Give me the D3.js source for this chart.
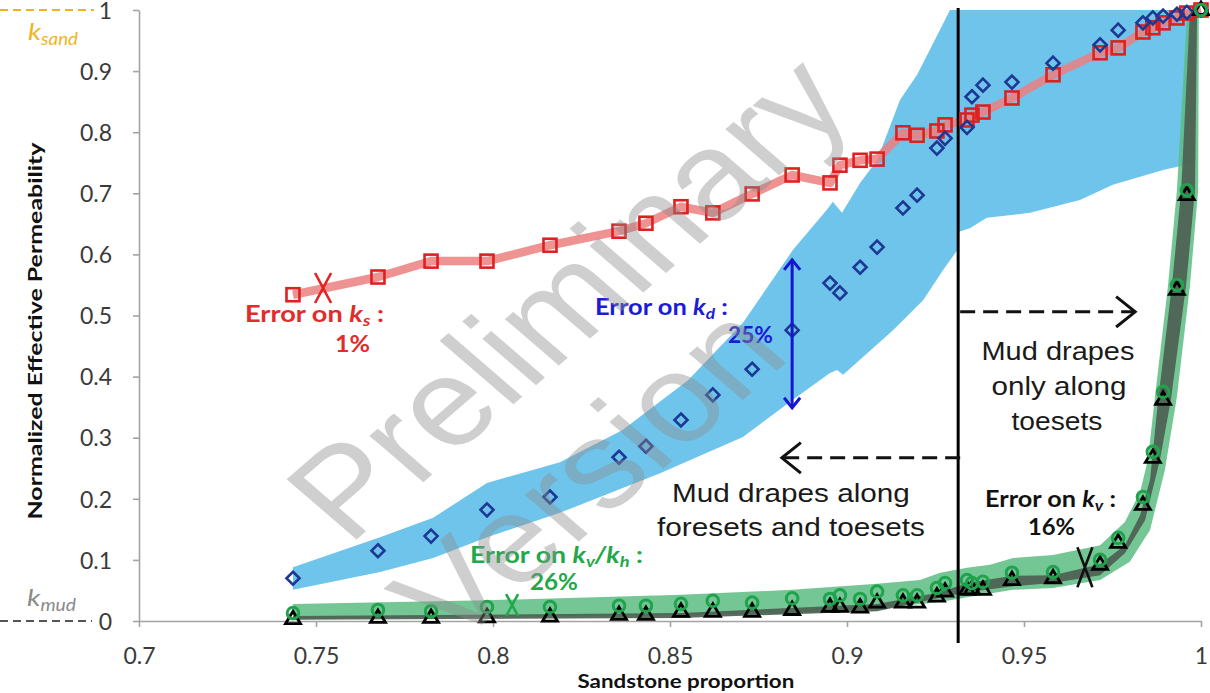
<!DOCTYPE html>
<html><head><meta charset="utf-8">
<script src="https://cdn.jsdelivr.net/npm/d3@7"></script>
<style>body{margin:0;background:#fff;}svg{display:block}</style>
</head><body>
<svg id="chart" width="1210" height="693"></svg>
<script>
// ---------------- data ----------------
const sandProportion = [0.7435, 0.7675, 0.7825, 0.7983, 0.8161, 0.8356, 0.8432, 0.8531, 0.8621, 0.8732, 0.8845, 0.8952, 0.8980, 0.9037, 0.9085, 0.9158, 0.9198, 0.9254, 0.9277, 0.9339, 0.9353, 0.9384, 0.9466, 0.9582, 0.9715, 0.9766, 0.9836, 0.9864, 0.9893, 0.9932, 0.9960, 1.0];
const ks   = [0.534, 0.563, 0.589, 0.589, 0.615, 0.638, 0.651, 0.678, 0.668, 0.699, 0.730, 0.717, 0.746, 0.754, 0.756, 0.799, 0.795, 0.802, 0.812, 0.820, 0.828, 0.833, 0.856, 0.894, 0.930, 0.938, 0.964, 0.971, 0.979, 0.987, 0.995, 1.0];
const kd   = [0.070, 0.115, 0.139, 0.182, 0.203, 0.268, 0.286, 0.329, 0.370, 0.412, 0.476, 0.553, 0.537, 0.579, 0.612, 0.676, 0.697, 0.774, 0.790, 0.808, 0.858, 0.877, 0.882, 0.913, 0.943, 0.967, 0.979, 0.987, 0.990, 0.993, 0.996, 1.0];
const kvkh = [0.013, 0.018, 0.016, 0.023, 0.023, 0.025, 0.025, 0.028, 0.033, 0.030, 0.037, 0.036, 0.042, 0.036, 0.048, 0.042, 0.042, 0.054, 0.062, 0.067, 0.062, 0.064, 0.079, 0.080, 0.100, 0.136, 0.203, 0.277, 0.375, 0.550, 0.705, 1.0];
const kv   = [0.003, 0.005, 0.005, 0.006, 0.007, 0.010, 0.010, 0.015, 0.015, 0.015, 0.018, 0.023, 0.023, 0.022, 0.030, 0.030, 0.030, 0.040, 0.048, 0.051, 0.052, 0.051, 0.067, 0.070, 0.092, 0.128, 0.190, 0.267, 0.362, 0.542, 0.697, 1.0];

// error envelopes: [sand proportion, permeability]
const kdBandUpper = [[0.7435,0.088],[0.7681,0.137],[0.7831,0.169],[0.7983,0.226],[0.8189,0.260],[0.8365,0.312],[0.8551,0.394],[0.8706,0.488],[0.8847,0.607],[0.8943,0.673],[0.8960,0.686],[0.8986,0.668],[0.9037,0.717],[0.9085,0.754],[0.9150,0.853],[0.9198,0.894],[0.9234,0.935],[0.9291,1.0],[0.9983,1.0]];
const kdBandLower = [[0.7435,0.051],[0.7681,0.080],[0.7831,0.103],[0.7983,0.137],[0.8189,0.177],[0.8472,0.242],[0.8706,0.301],[0.8847,0.362],[0.8952,0.406],[0.8972,0.411],[0.8989,0.403],[0.9130,0.476],[0.9215,0.525],[0.9271,0.574],[0.9314,0.609],[0.9316,0.637],[0.9347,0.643],[0.9395,0.660],[0.9517,0.668],[0.9658,0.689],[0.9751,0.714],[0.9893,0.738],[0.9983,0.750]];
const kvkhBandUpper = [[0.7435,0.028],[0.7983,0.034],[0.8531,0.043],[0.8845,0.051],[0.9085,0.061],[0.9206,0.067],[0.9263,0.079],[0.9339,0.087],[0.9404,0.092],[0.9469,0.103],[0.9582,0.108],[0.9715,0.124],[0.9785,0.162],[0.9828,0.211],[0.9850,0.264],[0.9870,0.367],[0.9907,0.550],[0.9932,0.705],[0.9960,0.989],[0.9969,1.0],[0.9994,1.0]];
const kvkhBandLower = [[0.7435,0.003],[0.7983,0.007],[0.8531,0.010],[0.8845,0.013],[0.9085,0.020],[0.9263,0.031],[0.9339,0.039],[0.9469,0.051],[0.9582,0.054],[0.9715,0.067],[0.9799,0.097],[0.9856,0.149],[0.9898,0.247],[0.9932,0.367],[0.9969,0.550],[0.9992,0.705],[0.9994,1.0]];
const kvBandUpper = [[0.7435,0.008],[0.8531,0.013],[0.9085,0.028],[0.9263,0.047],[0.9339,0.062],[0.9469,0.074],[0.9582,0.075],[0.9715,0.093],[0.9785,0.124],[0.9828,0.173],[0.9856,0.231],[0.9879,0.362],[0.9918,0.550],[0.9944,0.705],[0.9969,1.0],[0.9989,1.0]];
const kvBandLower = [[0.7435,0.002],[0.8531,0.005],[0.9085,0.016],[0.9263,0.038],[0.9339,0.047],[0.9469,0.057],[0.9582,0.062],[0.9715,0.075],[0.9785,0.111],[0.9842,0.165],[0.9884,0.264],[0.9915,0.362],[0.9958,0.550],[0.9983,0.705],[0.9989,1.0]];

const xTicks = [0.7, 0.75, 0.8, 0.85, 0.9, 0.95, 1.0];
const xTickLabels = ["0.7", "0.75", "0.8", "0.85", "0.9", "0.95", "1"];
const yTicks = [0, 0.1, 0.2, 0.3, 0.4, 0.5, 0.6, 0.7, 0.8, 0.9, 1.0];
const yTickLabels = ["0", "0.1", "0.2", "0.3", "0.4", "0.5", "0.6", "0.7", "0.8", "0.9", "1"];

const transitionX = 0.9314;          // vertical separator
const ksCross = [0.752, 0.545];      // error location markers
const kvkhCross = [0.8054, 0.026];
const kvCross = [0.9672, 0.088];
const kdArrow = [0.8845, 0.349, 0.591];   // x, from, to
const leftArrow = [0.9314, 0.8816, 0.267]; // from x, to x, y
const rightArrow = [0.9314, 0.9814, 0.506];

// ---------------- drawing ----------------
const svg = d3.select("#chart");
const x = d3.scaleLinear().domain([0.7, 1]).range([139, 1201]);
const y = d3.scaleLinear().domain([0, 1]).range([621, 10]);
const LATO = "Lato, 'Open Sans', sans-serif";
const ARIAL = "'Liberation Sans', Arial, sans-serif";

const pts = vals => sandProportion.map((s, i) => [s, vals[i]]);
const line = d3.line().x(d => x(d[0])).y(d => y(d[1]));
const bandPath = (up, lo) => line(up.concat(lo.slice().reverse())) + "Z";

// axes
const yAxis = svg.append("g").attr("transform", `translate(${x(0.7)},0)`)
  .call(d3.axisLeft(y).tickValues(yTicks).tickFormat((d, i) => yTickLabels[i]).tickSize(6).tickSizeOuter(0).tickPadding(21));
const xAxis = svg.append("g").attr("transform", `translate(0,${y(0)})`)
  .call(d3.axisBottom(x).tickValues(xTicks).tickFormat((d, i) => xTickLabels[i]).tickSize(6).tickSizeOuter(0).tickPadding(21));
[yAxis, xAxis].forEach(a => {
  a.select(".domain").attr("stroke", "#a3a3a3").attr("stroke-width", 1.6);
  a.selectAll(".tick line").attr("stroke", "#a3a3a3").attr("stroke-width", 1.6);
  a.selectAll(".tick text").attr("font-family", LATO).attr("font-size", 23).attr("fill", "#3a3a3a");
});
yAxis.selectAll(".tick text").attr("dy", "0.36em");
xAxis.selectAll(".tick text").attr("dy", "0.71em");

// bands
svg.append("path").attr("d", bandPath(kdBandUpper, kdBandLower)).attr("fill", "#6fc4ec");
svg.append("path").attr("d", bandPath(kvkhBandUpper, kvkhBandLower)).attr("fill", "#5cbd82").attr("opacity", 0.85);
svg.append("path").attr("d", bandPath(kvBandUpper, kvBandLower)).attr("fill", "#4d5f52").attr("opacity", 0.92);

// ks line
svg.append("path").attr("d", line(pts(ks))).attr("fill", "none")
  .attr("stroke", "#ec7f7f").attr("stroke-opacity", 0.85).attr("stroke-width", 8.5).attr("stroke-linejoin", "round");

// vertical separator
svg.append("line").attr("x1", x(transitionX)).attr("x2", x(transitionX)).attr("y1", y(1) - 2).attr("y2", y(0) + 22)
  .attr("stroke", "#000").attr("stroke-width", 3);

// markers
svg.append("g").selectAll("rect").data(pts(ks)).join("rect")
  .attr("x", d => x(d[0]) - 6.5).attr("y", d => y(d[1]) - 6.5).attr("width", 13).attr("height", 13)
  .attr("fill", "none").attr("stroke", "#dd2020").attr("stroke-width", 2.6);
svg.append("g").selectAll("path").data(pts(kd)).join("path")
  .attr("transform", d => `translate(${x(d[0])},${y(d[1])})`)
  .attr("d", "M0,-6.5L6.5,0L0,6.5L-6.5,0Z")
  .attr("fill", "none").attr("stroke", "#1d3894").attr("stroke-width", 2.6);
svg.append("g").selectAll("path").data(pts(kv)).join("path")
  .attr("transform", d => `translate(${x(d[0])},${y(d[1])})`)
  .attr("d", "M0,-8L7.5,4.5L-7.5,4.5Z")
  .attr("fill", "none").attr("stroke", "#000").attr("stroke-width", 2.8).attr("stroke-linejoin", "miter");
svg.append("g").selectAll("circle").data(pts(kvkh)).join("circle")
  .attr("cx", d => x(d[0])).attr("cy", d => y(d[1])).attr("r", 5.8)
  .attr("fill", "none").attr("stroke", "#1fa34c").attr("stroke-width", 3);

// error crosses
function cross(p, w, h, color) {
  svg.append("path").attr("transform", `translate(${x(p[0])},${y(p[1])})`)
    .attr("d", `M${-w/2},${-h/2}L${w/2},${h/2}M${w/2},${-h/2}L${-w/2},${h/2}`)
    .attr("stroke", color).attr("stroke-width", 2.6).attr("fill", "none");
}
cross(ksCross, 16, 30, "#e52222");
cross(kvkhCross, 12, 22, "#22a84a");
cross(kvCross, 15, 40, "#111");

// kd double arrow
function chevron(tx, ty, dx, dy, color) { // tip at (tx,ty), opening toward (dx,dy)
  const px = -dy, py = dx;
  svg.append("path")
    .attr("d", `M${tx + dx*10 + px*8},${ty + dy*10 + py*8}L${tx},${ty}L${tx + dx*10 - px*8},${ty + dy*10 - py*8}`)
    .attr("fill", "none").attr("stroke", color).attr("stroke-width", 3);
}
svg.append("line").attr("x1", x(kdArrow[0])).attr("x2", x(kdArrow[0])).attr("y1", y(kdArrow[1])).attr("y2", y(kdArrow[2]))
  .attr("stroke", "#1515d2").attr("stroke-width", 3);
chevron(x(kdArrow[0]), y(kdArrow[2]), 0, 1, "#1515d2");
chevron(x(kdArrow[0]), y(kdArrow[1]), 0, -1, "#1515d2");

// dashed arrows
[leftArrow, rightArrow].forEach(a => {
  svg.append("line").attr("x1", x(a[0]) + 2).attr("x2", x(a[1])).attr("y1", y(a[2])).attr("y2", y(a[2]))
    .attr("stroke", "#111").attr("stroke-width", 3).attr("stroke-dasharray", "15,8");
  chevron(x(a[1]), y(a[2]), a[1] < a[0] ? 1.9 : -1.9, 0, "#111");
});

// k_sand / k_mud reference marks
svg.append("line").attr("x1", 0).attr("x2", 94).attr("y1", y(1)).attr("y2", y(1))
  .attr("stroke", "#f2b21c").attr("stroke-width", 2).attr("stroke-dasharray", "8,5");
svg.append("line").attr("x1", 0).attr("x2", 92).attr("y1", y(0)).attr("y2", y(0))
  .attr("stroke", "#555").attr("stroke-width", 2).attr("stroke-dasharray", "8,5");

// rich text helper, horizontally fitted to a target width
function rich(parts, left, base, width, opt) {
  const fs = opt.size;
  const t = svg.append("text").attr("font-family", opt.family || LATO).attr("font-size", fs)
    .attr("font-weight", opt.weight || "normal").attr("fill", opt.color).attr("font-style", opt.style || "normal");
  let prevSub = false;
  parts.forEach(p => {
    const ts = t.append("tspan").text(p.t);
    if (p.i) ts.attr("font-style", "italic");
    if (p.sub) { ts.attr("font-size", fs * 0.68); if (!prevSub) ts.attr("dy", fs * 0.2); }
    else if (prevSub) ts.attr("dy", -fs * 0.2);
    prevSub = !!p.sub;
  });
  const w = t.node().getComputedTextLength();
  const sx = width ? width / w : 1;
  const x0 = opt.anchor === "middle" ? left - (width || w) / 2 : left;
  t.attr("transform", `translate(${x0},${base}) scale(${sx},1)`);
  return t;
}

rich([{t: "k", i: 1}, {t: "sand", sub: 1, i: 1}], 28, 40, 50, {size: 24, color: "#f0b41e"});
rich([{t: "k", i: 1}, {t: "mud", sub: 1, i: 1}], 27, 606, 49, {size: 24, color: "#8a8a8a"});

const B = {weight: "bold", size: 22};
rich([{t: "Error on "}, {t: "k", i: 1}, {t: "s", sub: 1, i: 1}, {t: " :"}], 245, 322, 139, {...B, color: "#e52a2a"});
rich([{t: "1%"}], 335, 352, 35, {...B, color: "#e52a2a"});
rich([{t: "Error on "}, {t: "k", i: 1}, {t: "d", sub: 1, i: 1}, {t: " :"}], 595, 315, 133, {...B, color: "#1c1cd6"});
rich([{t: "25%"}], 728, 343, 45, {...B, color: "#1c1cd6"});
rich([{t: "Error on "}, {t: "k", i: 1}, {t: "v", sub: 1, i: 1}, {t: "/", i: 1}, {t: "k", i: 1}, {t: "h", sub: 1, i: 1}, {t: " :"}], 470, 563, 173, {...B, color: "#22a84a"});
rich([{t: "26%"}], 530, 590, 48, {...B, color: "#22a84a"});
rich([{t: "Error on "}, {t: "k", i: 1}, {t: "v", sub: 1, i: 1}, {t: " :"}], 985, 507, 131, {...B, color: "#111"});
rich([{t: "16%"}], 1028, 535, 47, {...B, color: "#111"});

const M = {family: ARIAL, size: 25, color: "#1a1a1a", anchor: "middle"};
rich([{t: "Mud drapes along"}], 791, 502, 238, M);
rich([{t: "foresets and toesets"}], 791, 536, 268, M);
rich([{t: "Mud drapes"}], 1058, 360, 153, M);
rich([{t: "only along"}], 1059, 395, 135, M);
rich([{t: "toesets"}], 1057, 430, 91, M);

// axis titles
rich([{t: "Sandstone proportion"}], 686, 688, 217, {weight: "bold", size: 18, color: "#111", anchor: "middle"});
{
  const t = svg.append("text").attr("font-family", LATO).attr("font-weight", "bold").attr("font-size", 18)
    .attr("fill", "#111").attr("text-anchor", "middle").text("Normalized Effective Permeability");
  const w = t.node().getComputedTextLength();
  t.attr("transform", `translate(42,331) rotate(-90) scale(${377 / w},1)`);
}

// watermark
[["Preliminary", 566, 296], ["Version", 586, 472]].forEach(([s, cx, cy]) => {
  svg.append("text").attr("font-family", ARIAL).attr("font-size", 124).attr("fill", "#8c8c8c").attr("fill-opacity", 0.42)
    .attr("text-anchor", "middle").attr("dy", "0.36em")
    .attr("transform", `translate(${cx},${cy}) scale(1.16,1) rotate(-45)`).text(s);
});
</script>
</body></html>
